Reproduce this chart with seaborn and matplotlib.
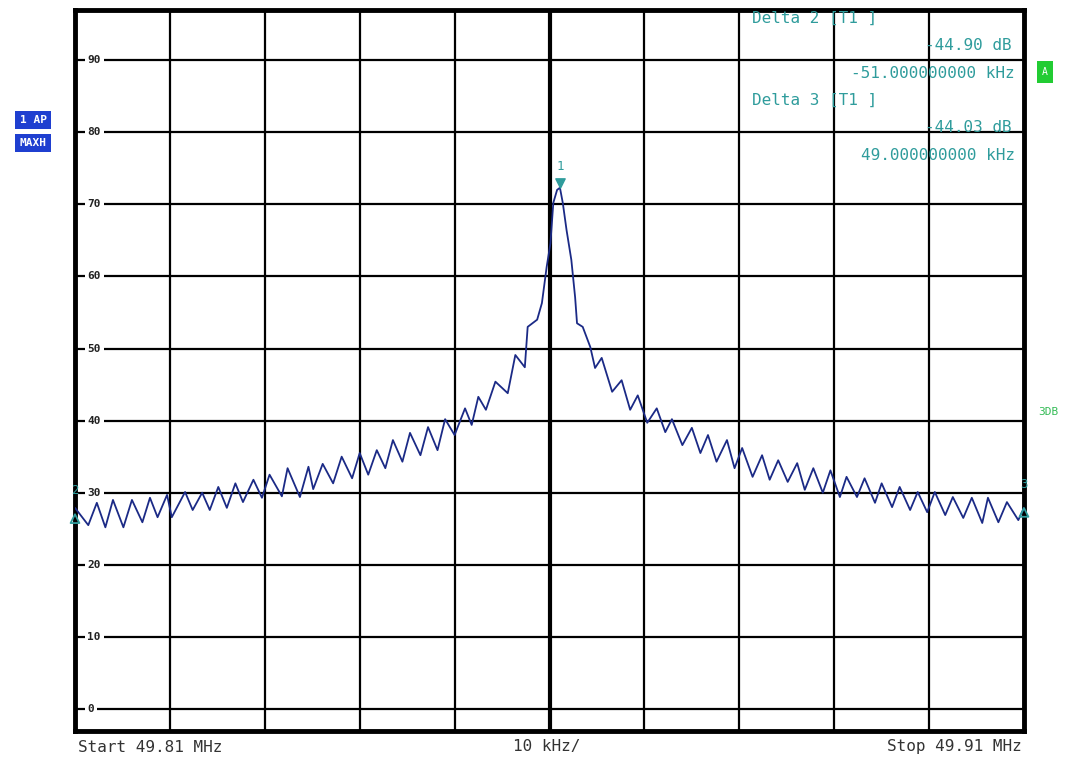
import pandas as pd
import matplotlib
matplotlib.use("Agg")
import matplotlib.pyplot as plt
import seaborn as sns

# trace: offset from 49.81 MHz start (kHz) and level (dB)
freq_khz = [0.0, 1.4, 2.3, 3.2, 4.0, 5.1, 6.0, 7.1, 7.9, 8.7, 9.7, 10.2, 11.6, 12.4,
            13.4, 14.2, 15.1, 16.0, 16.9, 17.7, 18.8, 19.7, 20.5, 21.8, 22.4, 23.7,
            24.6, 25.1, 26.1, 27.2, 28.1, 29.2, 30.0, 30.9, 31.8, 32.7, 33.5, 34.5,
            35.3, 36.4, 37.2, 38.2, 39.0, 40.0, 41.1, 41.8, 42.5, 43.3, 44.3, 45.6,
            46.4, 47.4, 47.7, 48.7, 49.2, 49.7, 50.1, 50.4, 50.8, 51.1, 51.4, 51.8,
            52.3, 52.7, 52.9, 53.5, 54.3, 54.8, 55.5, 56.6, 57.6, 58.5, 59.3, 60.3,
            61.3, 62.2, 62.9, 64.0, 65.0, 65.9, 66.7, 67.6, 68.7, 69.5, 70.3, 71.4,
            72.4, 73.2, 74.1, 75.1, 76.1, 76.9, 77.8, 78.8, 79.6, 80.6, 81.3, 82.4,
            83.2, 84.3, 85.0, 86.1, 86.9, 88.0, 88.8, 89.8, 90.6, 91.7, 92.5, 93.6,
            94.5, 95.6, 96.2, 97.3, 98.2, 99.4, 100.0]
level_db = [27.9, 25.5, 28.6, 25.2, 29.0, 25.2, 29.0, 25.9, 29.3, 26.6, 29.7, 26.6, 30.1, 27.6,
            30.0, 27.6, 30.8, 27.9, 31.3, 28.7, 31.8, 29.3, 32.5, 29.5, 33.4, 29.4,
            33.6, 30.5, 34.0, 31.3, 35.0, 32.0, 35.5, 32.5, 35.9, 33.4, 37.3, 34.3,
            38.3, 35.2, 39.1, 35.9, 40.2, 38.0, 41.7, 39.4, 43.3, 41.5, 45.4, 43.8,
            49.1, 47.4, 53.0, 54.0, 56.3, 61.3, 64.6, 70.2, 72.0, 72.3, 70.2, 66.4,
            62.3, 57.1, 53.5, 53.0, 50.2, 47.3, 48.7, 44.0, 45.6, 41.5, 43.5, 39.7,
            41.7, 38.4, 40.2, 36.6, 39.0, 35.5, 38.0, 34.3, 37.3, 33.4, 36.2, 32.2,
            35.2, 31.8, 34.5, 31.5, 34.1, 30.4, 33.4, 30.0, 33.1, 29.4, 32.2, 29.4,
            32.0, 28.6, 31.3, 28.0, 30.8, 27.6, 30.1, 27.3, 30.1, 26.9, 29.4, 26.5,
            29.3, 25.8, 29.3, 25.9, 28.7, 26.2, 27.9]

# markers: 1 = peak, 2 and 3 = delta markers at the span edges
marker_names = ["1", "2", "3"]
marker_khz = [51.1, 0.0, 100.0]
marker_db = [72.3, 27.4, 28.27]

y_labels = [0, 10, 20, 30, 40, 50, 60, 70, 80, 90]
readout = ["Delta 2 [T1 ]", "-44.90 dB", "-51.000000000 kHz",
           "Delta 3 [T1 ]", "-44.03 dB", "49.000000000 kHz"]

df = pd.DataFrame({"freq": freq_khz, "level": level_db})

sns.set_style("white")
mono = ["DejaVu Sans Mono"]
teal = "#2f9c9c"

fig = plt.figure(figsize=(10.67, 7.65), dpi=100)
ax = fig.add_axes([75 / 1067, 34 / 765, 949 / 1067, 721 / 765])

ax.set_xlim(0, 100)
ax.set_ylim(-3.05, 96.95)
ax.set_xticks(range(0, 101, 10))
ax.set_yticks(y_labels)
ax.grid(True, color="black", lw=1.6)
ax.axvline(50, color="black", lw=3, zorder=1)
ax.tick_params(left=False, bottom=False, labelleft=False, labelbottom=False)
for s in ax.spines.values():
    s.set_linewidth(3.5)
    s.set_color("black")

# level labels sit inside the grid, breaking the lines
for v in y_labels:
    ax.text(1.3, v, str(v), fontsize=8, family=mono, fontweight="bold", color="#222222",
            va="center", ha="left", zorder=3,
            bbox=dict(facecolor="white", edgecolor="none", pad=2))

sns.lineplot(data=df, x="freq", y="level", ax=ax, color="#1b2a86", lw=1.3,
             zorder=4, legend=False)
ax.set_xlabel("")
ax.set_ylabel("")

# marker symbols
ax.scatter(marker_khz[0], marker_db[0] + 0.7, marker="v", s=45, color=teal, zorder=5, clip_on=False)
ax.text(marker_khz[0], marker_db[0] + 2.9, marker_names[0], color=teal, fontsize=9,
        family=mono, ha="center", va="center")
for n, f, d in zip(marker_names[1:], marker_khz[1:], marker_db[1:]):
    ax.scatter(f, d - 1.0, marker="^", s=40, facecolor="none", edgecolor=teal,
               lw=1.3, zorder=5, clip_on=False)
    ax.text(f, d + 2.9, n, color=teal, fontsize=9, family=mono, ha="center", va="center")

# marker readout block
fx = lambda px: px / 1067
fy = lambda py: 1 - py / 765
fig.text(fx(752), fy(18), readout[0], color=teal, fontsize=11.5, family=mono, va="center")
fig.text(fx(1012), fy(45), readout[1], color=teal, fontsize=11.5, family=mono, va="center", ha="right")
fig.text(fx(1015), fy(73), readout[2], color=teal, fontsize=11.5, family=mono, va="center", ha="right")
fig.text(fx(752), fy(100), readout[3], color=teal, fontsize=11.5, family=mono, va="center")
fig.text(fx(1012), fy(127), readout[4], color=teal, fontsize=11.5, family=mono, va="center", ha="right")
fig.text(fx(1015), fy(155), readout[5], color=teal, fontsize=11.5, family=mono, va="center", ha="right")

# bottom annotations
fig.text(fx(78), fy(747), "Start 49.81 MHz", fontsize=11.5, family=mono, color="#333333", va="center")
fig.text(fx(547), fy(747), "10 kHz/", fontsize=11.5, family=mono, color="#333333", va="center", ha="center")
fig.text(fx(1022), fy(747), "Stop 49.91 MHz", fontsize=11.5, family=mono, color="#333333", va="center", ha="right")

# side labels
fig.text(fx(33), fy(120), "1 AP", fontsize=8, family=mono, fontweight="bold", color="white",
         ha="center", va="center", bbox=dict(facecolor="#1f3fd0", edgecolor="none", pad=3))
fig.text(fx(33), fy(143), "MAXH", fontsize=8, family=mono, fontweight="bold", color="white",
         ha="center", va="center", bbox=dict(facecolor="#1f3fd0", edgecolor="none", pad=3))
fig.text(fx(1045), fy(72), "A", fontsize=7, family=mono, color="white",
         ha="center", va="center", bbox=dict(facecolor="#22cc33", edgecolor="none", pad=4))
fig.text(fx(1048), fy(412), "3DB", fontsize=8, family=mono, color="#33bb55",
         ha="center", va="center")

fig.savefig("out.png", dpi=100, facecolor="white")
